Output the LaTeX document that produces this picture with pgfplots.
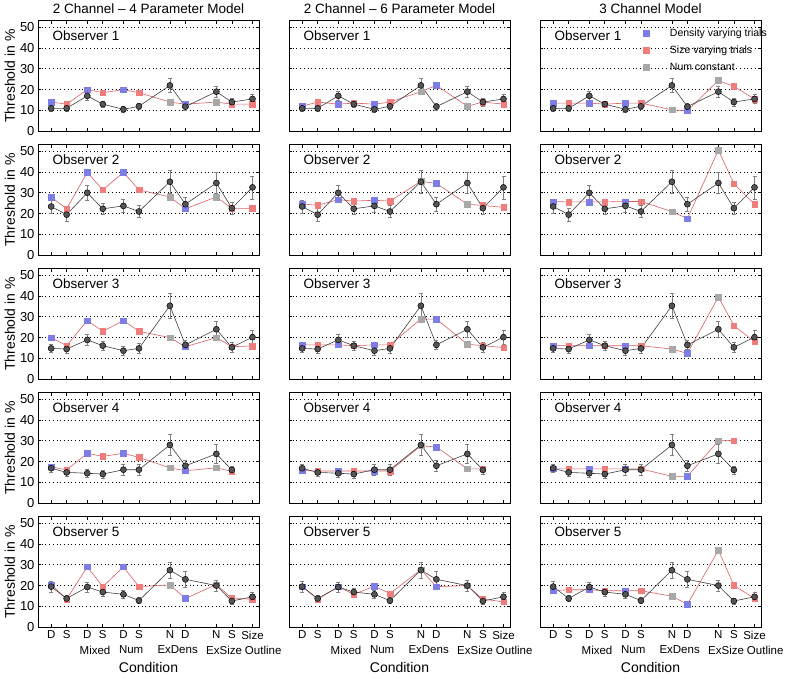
\documentclass[border=0pt]{standalone}
\usepackage{fontspec}
\setmainfont{Liberation Sans}
\usepackage{pgfplots}
\usepackage{pgfplotstable}
\pgfplotsset{compat=1.18}
\usepgfplotslibrary{groupplots}

\definecolor{cD}{RGB}{125,125,230}
\definecolor{cS}{RGB}{240,125,125}
\definecolor{cN}{RGB}{168,168,168}
\definecolor{cLine}{RGB}{215,95,100}
\definecolor{cObs}{RGB}{85,85,85}

\newcommand{\obsfont}{\fontsize{13.5}{15}\selectfont}
\newcommand{\titfont}{\fontsize{13.5}{15}\selectfont}
\newcommand{\labfont}{\fontsize{14}{16}\selectfont}
\newcommand{\ytfont}{\fontsize{13}{15}\selectfont}
\newcommand{\xtfont}{\fontsize{11.5}{13}\selectfont}
\newcommand{\legfont}{\fontsize{10.5}{12}\selectfont}

\pgfplotstableread{
x c o e m1 m2 m3
0 D 11 1.3 14 12 13.5
1 S 11 1.3 13 14 13.5
2.333 D 17 2 20 13 13.5
3.333 S 13 1.5 18.5 13.5 13
4.667 D 10.5 1.5 20 13 13.5
5.667 S 12 1.5 18.5 14 13.5
7.667 N 22 3.5 14 19 10.3
8.667 D 11.8 1.5 13 22 9.8
10.667 N 19 2.5 14 12 24.4
11.667 S 14 1.8 13 14 21.5
13 S 15.5 2.2 13 13 15.5
}\obsA

\pgfplotstableread{
x c o e m1 m2 m3
0 D 23.4 3 28 24.6 25.8
1 S 19.5 3 22.3 24 25.6
2.333 D 30 3.5 39.8 26.7 25.6
3.333 S 22.3 2.5 31.4 26 25.6
4.667 D 23.7 3 39.8 26.4 25.8
5.667 S 21 3 31.4 26 25.8
7.667 N 35.3 5.5 28 35.5 21
8.667 D 24.5 3.5 22.3 34.5 17.6
10.667 N 34.7 5 28 24.5 50.5
11.667 S 22.6 3 22.5 23.9 34.4
13 S 32.6 5.5 22.5 23 24.5
}\obsB

\pgfplotstableread{
x c o e m1 m2 m3
0 D 14.8 2 20 16.5 16.1
1 S 14.5 2 16.1 16.5 16.1
2.333 D 18.9 2.8 28.2 16.5 16.1
3.333 S 16.1 2 23 16.1 16.1
4.667 D 13.7 2 28.2 16.5 16.1
5.667 S 14.8 2.5 23 16.5 16.1
7.667 N 35.3 6 20 28.9 14.5
8.667 D 16.5 2 15.6 28.9 12.4
10.667 N 24 4 20 16.8 39.5
11.667 S 15.3 2.5 15.6 16.1 25.8
13 S 20.2 3.5 16 15.2 18
}\obsC

\pgfplotstableread{
x c o e m1 m2 m3
0 D 16.8 2 17.5 15.7 16.5
1 S 14.8 2 16 15.5 16.5
2.333 D 14.4 2 24 15.5 16.5
3.333 S 14 2 22.5 15.5 16.5
4.667 D 16.1 2.5 24 15.5 16.5
5.667 S 16.1 2.5 22 15.5 16.5
7.667 N 28 5 17 27.6 12.9
8.667 D 18 2.5 15.6 27 12.9
10.667 N 23.7 4.5 17 16.5 30
11.667 S 16 2 15.3 16.5 30
}\obsD

\pgfplotstableread{
x c o e m1 m2 m3
0 D 19.5 2.5 20.5 19.5 17.6
1 S 13.8 1.5 13.5 13.5 18
2.333 D 19.3 2.5 29 19.5 18
3.333 S 16.9 2 19.5 15.8 17.5
4.667 D 15.8 2 29 19.7 17.5
5.667 S 12.8 1.5 19.5 16.2 17.5
7.667 N 27.4 4 20.3 27.6 14.9
8.667 D 23 4 13.8 19.5 11
10.667 N 20 2.5 20.5 20 37
11.667 S 12.6 1.5 13.8 13.5 20.1
13 S 14.6 2 13.5 12.2 13.8
}\obsE

\newcommand{\panel}[3]{%
 \addplot[forget plot, cLine, line width=0.6pt, mark=none] table[x=x,y=#2]{#1};
 \addplot[forget plot, scatter, only marks, mark size=2.8pt, scatter src=explicit symbolic,
   scatter/classes={D={mark=square*,draw=cD,fill=cD}, S={mark=square*,draw=cS,fill=cS}, N={mark=square*,draw=cN,fill=cN}}]
   table[x=x,y=#2,meta=c]{#1};
 \addplot[forget plot, black!75, line width=0.6pt, mark=*, mark size=3pt,
   mark options={fill=cObs, draw=black, line width=0.5pt},
   error bars/.cd, y dir=both, y explicit,
   error bar style={gray, line width=0.5pt},
   error mark options={rotate=90, gray, mark size=2pt, line width=0.5pt}]
   table[x=x,y=o,y error=e]{#1};
 \node[anchor=base west, font=\obsfont] at (rel axis cs:0.05,0.822) {Observer #3};
}

\pgfplotsset{
 bottomrow/.style={
   xlabel=Condition,
   xlabel style={at={(axis description cs:0.5,0)}, anchor=center, yshift=-40pt, font=\labfont},
   extra x ticks={2.833,5.167,8.167,11.167,13.4},
   extra x tick labels={Mixed,Num,ExDens,ExSize,\hspace*{9pt}Outline},
   extra x tick style={major tick length=0pt, tick style={draw=none}, xticklabel style={yshift=-15pt}},
 },
 leftcol/.style={
   ylabel={Threshold in \%},
   ylabel style={at={(axis description cs:-0.127,0.5)}, anchor=center, font=\labfont},
 },
}

\begin{document}
\begin{tikzpicture}
\begin{groupplot}[
 group style={group name=G, group size=3 by 5, horizontal sep=30pt, vertical sep=13.5pt,
   xticklabels at=edge bottom, yticklabels at=edge left},
 scale only axis, width=221pt, height=110.5pt,
 xmin=-0.85, xmax=13.42, ymin=0, ymax=53.1,
 xtick={0,1,2.333,3.333,4.667,5.667,7.667,8.667,10.667,11.667,13},
 xticklabels={D,S,D,S,D,S,N,D,N,S,Size},
 ytick={0,10,20,30,40,50},
 ymajorgrids, grid style={black, line width=0.6pt, dash pattern=on 0.7pt off 3pt},
 tick align=inside, major tick length=3pt, tick style={black, line width=0.6pt},
 axis line style={line width=0.8pt},
 /pgf/number format/assume math mode=true,
 xticklabel style={font=\xtfont},
 yticklabel style={font=\ytfont},
 title style={at={(axis description cs:0.5,1)}, anchor=base, yshift=1.5pt, font=\titfont},
]
% Row 1
\nextgroupplot[leftcol, title={2 Channel -- 4 Parameter Model}]
\coordinate (tl) at (rel axis cs:0,1);
\panel{\obsA}{m1}{1}
\nextgroupplot[title={2 Channel -- 6 Parameter Model}]
\panel{\obsA}{m2}{1}
\nextgroupplot[title={3 Channel Model},
  legend style={at={(0.453,0.965)}, anchor=north west, draw=none, fill=none, font=\legfont, row sep=4pt, column sep=19pt, nodes={inner xsep=2pt}},
  legend cell align=left]
\addlegendimage{only marks, mark=square*, mark size=2.8pt, draw=cD, fill=cD}
\addlegendentry{Density varying trials}
\addlegendimage{only marks, mark=square*, mark size=2.8pt, draw=cS, fill=cS}
\addlegendentry{Size varying trials}
\addlegendimage{only marks, mark=square*, mark size=2.8pt, draw=cN, fill=cN}
\addlegendentry{Num constant}
\panel{\obsA}{m3}{1}
% Row 2
\nextgroupplot[leftcol]
\panel{\obsB}{m1}{2}
\nextgroupplot
\panel{\obsB}{m2}{2}
\nextgroupplot
\panel{\obsB}{m3}{2}
% Row 3
\nextgroupplot[leftcol]
\panel{\obsC}{m1}{3}
\nextgroupplot
\panel{\obsC}{m2}{3}
\nextgroupplot
\panel{\obsC}{m3}{3}
% Row 4
\nextgroupplot[leftcol]
\panel{\obsD}{m1}{4}
\nextgroupplot
\panel{\obsD}{m2}{4}
\nextgroupplot
\panel{\obsD}{m3}{4}
% Row 5
\nextgroupplot[leftcol, bottomrow]
\panel{\obsE}{m1}{5}
\nextgroupplot[bottomrow]
\panel{\obsE}{m2}{5}
\nextgroupplot[bottomrow]
\panel{\obsE}{m3}{5}
\end{groupplot}
\pgfresetboundingbox
\path (tl) ++(-38pt,20.7pt) rectangle ++(787pt,-678pt);
\end{tikzpicture}
\end{document}
